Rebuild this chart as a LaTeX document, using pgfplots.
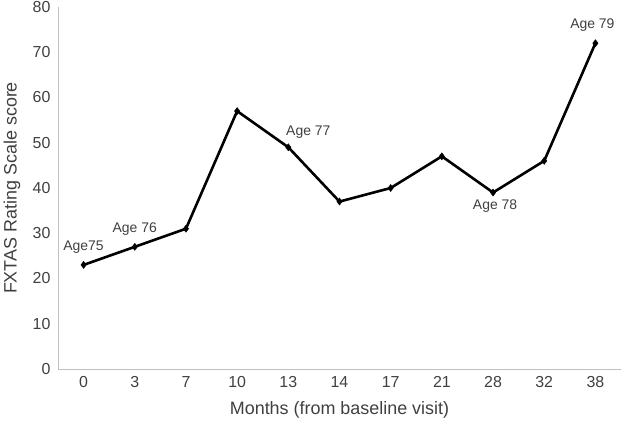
\documentclass[border=0pt]{standalone}
\usepackage{fontspec}
\setmainfont{Liberation Sans}
\usepackage{pgfplots}
\pgfplotsset{compat=1.18}
\definecolor{txt}{HTML}{404040}
\definecolor{axl}{HTML}{BFBFBF}
\begin{document}
\begin{tikzpicture}
\begin{axis}[
  scale only axis, width=563bp, height=362bp,
  xmin=-0.5, xmax=10.5, ymin=0, ymax=80,
  axis x line=bottom, axis y line=left,
  axis line style={-, draw=axl, line width=0.8bp},
  major tick length=0,
  xtick={0,...,10},
  xticklabels={0,3,7,10,13,14,17,21,28,32,38},
  ytick={0,10,...,80},
  /pgf/number format/assume math mode=true,
  tick label style={font=\fontsize{16}{18}\selectfont, text=txt},
  yticklabel style={xshift=-4bp},
  xticklabel style={yshift=-4bp},
  xlabel={Months (from baseline visit)},
  ylabel={FXTAS Rating Scale score},
  label style={font=\fontsize{18}{20}\selectfont, text=txt},
  xlabel style={at={(axis description cs:0.5,-0.1133)}, anchor=center},
  ylabel style={at={(axis description cs:-0.0817,0.5)}, anchor=center},
  clip=false,
]
\addplot[black, line width=2.6bp, mark=diamond*, mark size=3.5bp,
  mark options={line width=0.5bp}] coordinates {
  (0,23) (1,27) (2,31) (3,57) (4,49) (5,37) (6,40) (7,47) (8,39) (9,46) (10,72)
};
\begin{scope}[every node/.style={font=\fontsize{14}{16}\selectfont, text=txt, anchor=center}]
\node[yshift=18bp] at (axis cs:0,23) {Age75};
\node[yshift=18bp] at (axis cs:1,27) {Age 76};
\node[xshift=20bp, yshift=15bp] at (axis cs:4,49) {Age 77};
\node[xshift=2bp, yshift=-14bp] at (axis cs:8,39) {Age 78};
\node[xshift=-3bp, yshift=18bp] at (axis cs:10,72) {Age 79};
\end{scope}
\end{axis}
\pgfresetboundingbox
\path (-58bp,-52bp) rectangle (563bp,369bp);
\end{tikzpicture}
\end{document}
